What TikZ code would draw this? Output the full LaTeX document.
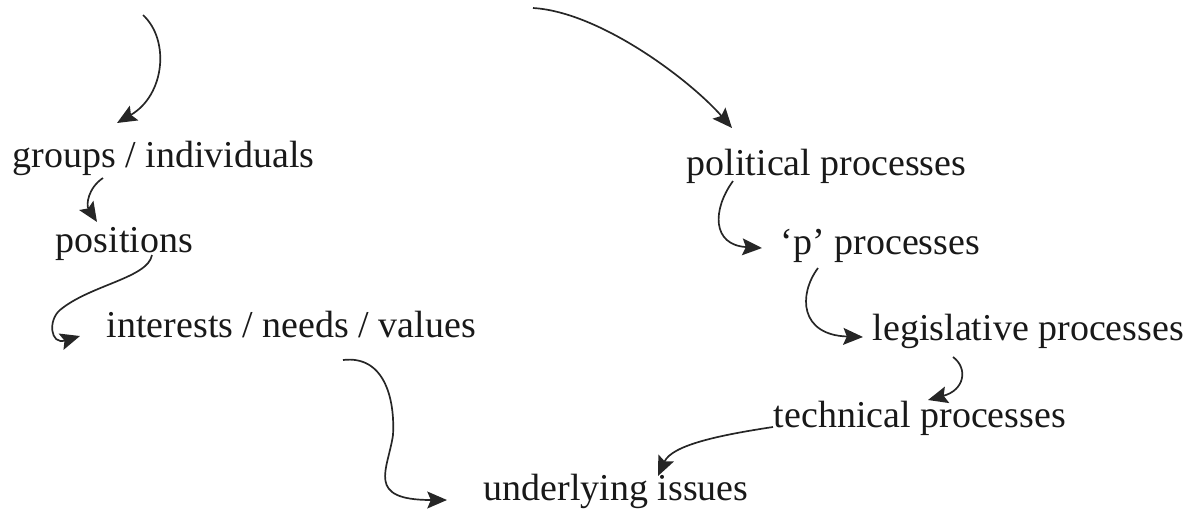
\documentclass[tikz,border=0pt]{standalone}
\usepackage{fontspec}
\setmainfont{Liberation Serif}
\usetikzlibrary{arrows.meta,calc}

\begin{document}
\begin{tikzpicture}[x=0.025cm,y=-0.025cm,
  line width=1.2pt,
  main node/.style={anchor=base west,inner sep=0pt,font=\fontsize{27}{32}\selectfont,text=black!90},
  flow/.style={draw=black!85,-{Stealth[length=14pt,width=12pt,inset=2.5pt]}}]

  \useasboundingbox (0,0) rectangle (1191,522);

  % left chain
  \node[main node] (grp) at (12,167) {groups / individuals};
  \node[main node] (pos) at (55,252) {positions};
  \node[main node] (intr) at (106,337) {interests / needs / values};
  \node[main node] (und) at (483,500) {underlying issues};

  % right chain
  \node[main node] (pol) at (686,175) {political processes};
  \node[main node] (pp) at (780,254) {‘p’ processes};
  \node[main node] (leg) at (872,340) {legislative processes};
  \node[main node] (tech) at (773,427) {technical processes};

  % arrows coming in from above
  \coordinate (srcL) at (143,15);
  \coordinate (srcR) at (533,8);

  \draw[flow] (srcL) .. controls (170,40) and (165,95) .. ($(grp.base west)+(105,-44)$);
  \draw[flow] (srcR) .. controls (600,12) and (690,80) .. ($(pol.base west)+(46,-47)$);

  \draw[flow] ($(grp.base west)+(91,11)$) .. controls (88,188) and (86,205) .. ($(pos.base west)+(42,-30)$);
  \draw[flow] ($(pos.base west)+(97,3)$) .. controls (148,278) and (90,285) .. (60,310)
    .. controls (48,320) and (50,345) .. ($(intr.base west)+(-26,-1)$);
  \draw[flow] ($(intr.base west)+(237,23)$) .. controls (385,355) and (395,400) .. (393,435)
    .. controls (388,470) and (365,500) .. ($(und.base west)+(-36,0)$);

  \draw[flow] ($(pol.base west)+(47,6)$) .. controls (712,210) and (712,245) .. ($(pp.base west)+(-18,-6)$);
  \draw[flow] ($(pp.base west)+(38,14)$) .. controls (798,295) and (800,335) .. ($(leg.base west)+(-9,-3)$);
  \draw[flow] ($(leg.base west)+(81,17)$) .. controls (968,368) and (965,390) .. ($(tech.base west)+(155,-27)$);
  \draw[flow] (tech.base west) .. controls (720,435) and (672,445) .. ($(und.base west)+(175,-24)$);
\end{tikzpicture}
\end{document}
